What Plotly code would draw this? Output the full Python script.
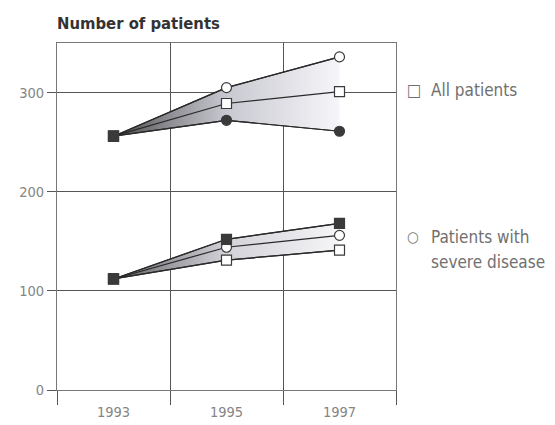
import plotly.graph_objects as go

years = [1993, 1995, 1997]

# Upper group (all patients)
upper_circle_open = [256, 305, 336]
upper_square_open = [256, 289, 301]
upper_circle_filled = [256, 272, 261]

# Lower group (patients with severe disease)
lower_square_filled = [112, 152, 168]
lower_circle_open = [112, 144, 156]
lower_square_open = [112, 131, 141]

y_ticks = [0, 100, 200, 300]
x_ticks = [1993, 1995, 1997]
x_grid = [1992, 1994, 1996, 1998]

dark = "#3a3a3a"
line = dict(color="#2a2a2a", width=1.2)
grad_upper = [[0, "#4a4a4a"], [0.25, "#8e8e94"], [0.5, "#c8c8d0"], [1, "#f6f6fa"]]
grad_lower = [[0, "#5a5a5a"], [0.25, "#9c9ca2"], [0.5, "#d2d2d8"], [1, "#f6f6f8"]]

def mk(symbols, filled):
    colors = [dark if f else "white" for f in filled]
    return dict(symbol=symbols, size=10, color=colors,
                line=dict(color=dark, width=1.2))

fig = go.Figure()

# upper band
fig.add_trace(go.Scatter(x=years, y=upper_circle_filled, mode="lines", line=line,
                         hoverinfo="skip", showlegend=False))
fig.add_trace(go.Scatter(x=years, y=upper_circle_open, mode="lines", line=line,
                         fill="tonexty",
                         fillgradient=dict(type="horizontal", colorscale=grad_upper),
                         showlegend=False))
# lower band
fig.add_trace(go.Scatter(x=years, y=lower_square_open, mode="lines", line=line,
                         showlegend=False))
fig.add_trace(go.Scatter(x=years, y=lower_square_filled, mode="lines", line=line,
                         fill="tonexty",
                         fillgradient=dict(type="horizontal", colorscale=grad_lower),
                         showlegend=False))

# lines with markers
fig.add_trace(go.Scatter(x=years, y=upper_circle_open, mode="lines+markers", line=line,
                         marker=mk(["square", "circle", "circle"], [1, 0, 0]), showlegend=False))
fig.add_trace(go.Scatter(x=years, y=upper_square_open, mode="lines+markers", line=line,
                         marker=mk(["square", "square", "square"], [1, 0, 0]), showlegend=False))
fig.add_trace(go.Scatter(x=years, y=upper_circle_filled, mode="lines+markers", line=line,
                         marker=mk(["square", "circle", "circle"], [1, 1, 1]), showlegend=False))
fig.add_trace(go.Scatter(x=years, y=lower_square_open, mode="lines+markers", line=line,
                         marker=mk(["square", "square", "square"], [1, 0, 0]), showlegend=False))
fig.add_trace(go.Scatter(x=years, y=lower_circle_open, mode="lines+markers", line=line,
                         marker=mk(["square", "circle", "circle"], [1, 0, 0]), showlegend=False))
fig.add_trace(go.Scatter(x=years, y=lower_square_filled, mode="lines+markers", line=line,
                         marker=mk(["square", "square", "square"], [1, 1, 1]), showlegend=False))

font_fam = "DejaVu Sans Condensed, DejaVu Sans, sans-serif"
grid_c = "#555555"
tick_c = "#858585"

fig.update_layout(
    width=547, height=417,
    margin=dict(l=49, r=159, t=35, b=35, autoexpand=False),
    paper_bgcolor="white", plot_bgcolor="white",
    font=dict(family=font_fam, color=tick_c, size=14),
    xaxis=dict(range=[1992, 1998], tickvals=x_ticks, ticks="", showgrid=False,
               zeroline=False, showline=True, mirror=True, linecolor="#777777",
               automargin=False, ticklabelstandoff=9,
               tickfont=dict(size=14.5, color=tick_c),
               minor=dict(tickvals=x_grid, ticks="outside", ticklen=14,
                          tickcolor=grid_c, showgrid=True, gridcolor=grid_c, gridwidth=1)),
    yaxis=dict(range=[0, 350], tickvals=y_ticks, ticks="outside", ticklen=9,
               tickcolor=grid_c, showgrid=True, gridcolor=grid_c, gridwidth=1,
               zeroline=False, showline=True, mirror=True, linecolor="#777777",
               automargin=False,
               tickfont=dict(size=14.5, color=tick_c)),
)
fig.add_annotation(text="<b>Number of patients</b>", xref="paper", yref="paper",
                   x=0, y=1, xanchor="left", yanchor="bottom", yshift=8, xshift=-2,
                   showarrow=False,
                   font=dict(size=16.5, color="#333333", family=font_fam))
legend_font = dict(size=17, color="#707070", family=font_fam)
fig.add_annotation(text="□", xref="paper", yref="y", x=1, y=303,
                   xanchor="left", yanchor="middle", xshift=9, showarrow=False,
                   font=dict(size=17, color="#707070", family=font_fam))
fig.add_annotation(text="All patients", xref="paper", yref="y", x=1, y=303,
                   xanchor="left", yanchor="middle", xshift=33, showarrow=False,
                   font=legend_font)
fig.add_annotation(text="○", xref="paper", yref="y", x=1, y=154,
                   xanchor="left", yanchor="middle", xshift=9, showarrow=False,
                   font=dict(size=15, color="#707070", family=font_fam))
fig.add_annotation(text="Patients with", xref="paper", yref="y",
                   x=1, y=154, xanchor="left", yanchor="middle", xshift=33, showarrow=False,
                   align="left", font=legend_font)
fig.add_annotation(text="severe disease", xref="paper", yref="y",
                   x=1, y=129, xanchor="left", yanchor="middle", xshift=33, showarrow=False,
                   align="left", font=legend_font)

fig.write_html("out.html")
